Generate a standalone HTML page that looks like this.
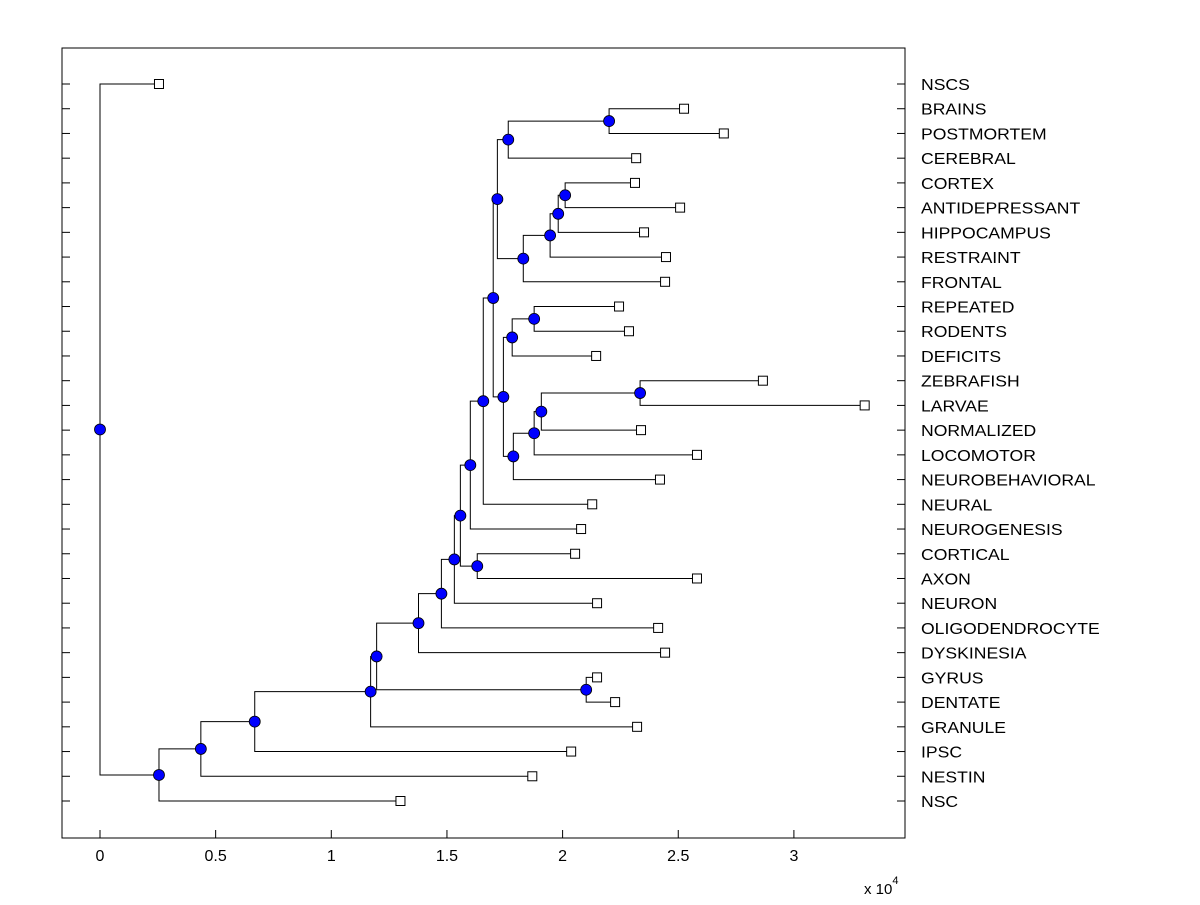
<!DOCTYPE html>
<html><head><meta charset="utf-8"><style>
body{margin:0;background:#fff;}
svg text{font-family:"Liberation Sans",Arial,sans-serif;}
</style></head><body>
<svg id="chart" width="1200" height="900" xmlns="http://www.w3.org/2000/svg">
<rect x="0" y="0" width="1200" height="900" fill="#fff"/>
<g id="plot"></g>
</svg>
<script>
// leaf labels in display order (top to bottom)
const leafLabels = ["NSCS","BRAINS","POSTMORTEM","CEREBRAL","CORTEX","ANTIDEPRESSANT","HIPPOCAMPUS","RESTRAINT","FRONTAL","REPEATED","RODENTS","DEFICITS","ZEBRAFISH","LARVAE","NORMALIZED","LOCOMOTOR","NEUROBEHAVIORAL","NEURAL","NEUROGENESIS","CORTICAL","AXON","NEURON","OLIGODENDROCYTE","DYSKINESIA","GYRUS","DENTATE","GRANULE","IPSC","NESTIN","NSC"];
// leaf values (x 10^4)
const leafValues = [0.255,2.525,2.697,2.318,2.313,2.508,2.352,2.447,2.443,2.244,2.287,2.145,2.866,3.306,2.339,2.581,2.421,2.128,2.080,2.054,2.581,2.149,2.413,2.443,2.149,2.227,2.322,2.037,1.869,1.299];
// internal nodes: name, children, value (x 10^4)
const nodeNames = ["BP","Q","U","T","S","R","O","X","V","ZL","Z","Y","W","P","N","M","L","CA","J","H","G","F","GD","E","D","C","B","A","root"];
const nodeChildren = [["BRAINS","POSTMORTEM"],["BP","CEREBRAL"],["CORTEX","ANTIDEPRESSANT"],["U","HIPPOCAMPUS"],["T","RESTRAINT"],["S","FRONTAL"],["Q","R"],["REPEATED","RODENTS"],["X","DEFICITS"],["ZEBRAFISH","LARVAE"],["ZL","NORMALIZED"],["Z","LOCOMOTOR"],["Y","NEUROBEHAVIORAL"],["V","W"],["O","P"],["N","NEURAL"],["M","NEUROGENESIS"],["CORTICAL","AXON"],["L","CA"],["J","NEURON"],["H","OLIGODENDROCYTE"],["G","DYSKINESIA"],["GYRUS","DENTATE"],["GD","F"],["E","GRANULE"],["D","IPSC"],["C","NESTIN"],["B","NSC"],["NSCS","A"]];
const nodeValues = [2.201,1.765,2.011,1.981,1.946,1.830,1.718,1.877,1.782,2.335,1.908,1.877,1.787,1.744,1.700,1.657,1.601,1.631,1.558,1.532,1.476,1.377,2.102,1.196,1.170,0.669,0.436,0.255,0.0];
const xTicks = [0,0.5,1,1.5,2,2.5,3];
const xTickLabels = ["0","0.5","1","1.5","2","2.5","3"];

const NS="http://www.w3.org/2000/svg";
const g=document.getElementById('plot');
const L=62,R=905,T=48,B=838;
function xs(v){return 100+v*231.3;}
function ys(i){return 84+i*(801-84)/29;}
function mk(tag,attrs){const e=document.createElementNS(NS,tag);for(const k in attrs)e.setAttribute(k,attrs[k]);g.appendChild(e);return e;}

const pos={};
leafLabels.forEach((n,i)=>{pos[n]={x:xs(leafValues[i]),y:ys(i)};});
nodeNames.forEach((n,i)=>{const a=pos[nodeChildren[i][0]],b=pos[nodeChildren[i][1]];pos[n]={x:xs(nodeValues[i]),y:(a.y+b.y)/2};});

// axes box
let box=mk('rect',{x:L,y:T,width:R-L,height:B-T,fill:'none',stroke:'#000','stroke-width':1});



// y ticks + labels
leafLabels.forEach((n,i)=>{
  const y=ys(i);
  let t1=mk('line',{x1:L,y1:y,x2:L+8,y2:y,stroke:'#000'});
  
  
  let t2=mk('line',{x1:R-8,y1:y,x2:R,y2:y,stroke:'#000'});
  
  
  let tx=mk('text',{x:0,y:0,'font-size':16,fill:'#000',transform:`translate(921,${y+6}) scale(1.1,1)`});
  tx.textContent=n;
  
  
});
// x ticks
xTicks.forEach((v,i)=>{
  const x=xs(v);
  let t=mk('line',{x1:x,y1:B,x2:x,y2:B-8,stroke:'#000'});
  
  
  let tx=mk('text',{x:x,y:861,'font-size':16,'text-anchor':'middle',fill:'#000'});
  tx.textContent=xTickLabels[i];
  
  
});
let ex=mk('text',{x:864,y:894,'font-size':15,fill:'#000'});
ex.innerHTML='x 10<tspan dy="-10" font-size="11">4</tspan>';



// branches
nodeNames.forEach((n,i)=>{
  const p=pos[n];
  const a=pos[nodeChildren[i][0]],b=pos[nodeChildren[i][1]];
  let pl=mk('polyline',{points:`${a.x},${a.y} ${p.x},${a.y} ${p.x},${b.y} ${b.x},${b.y}`,fill:'none',stroke:'#000','stroke-width':1});
  
  
});
// leaf markers
leafLabels.forEach((n)=>{
  const p=pos[n];
  let r=mk('rect',{x:p.x-4.5,y:p.y-4.5,width:9,height:9,fill:'#fff',stroke:'#000'});
  
  
});
// node markers
nodeNames.forEach((n)=>{
  const p=pos[n];
  let c=mk('circle',{cx:p.x,cy:p.y,r:5.5,fill:'#0000ff',stroke:'#000','stroke-width':0.8});
  
  
});
</script>
</body></html>
